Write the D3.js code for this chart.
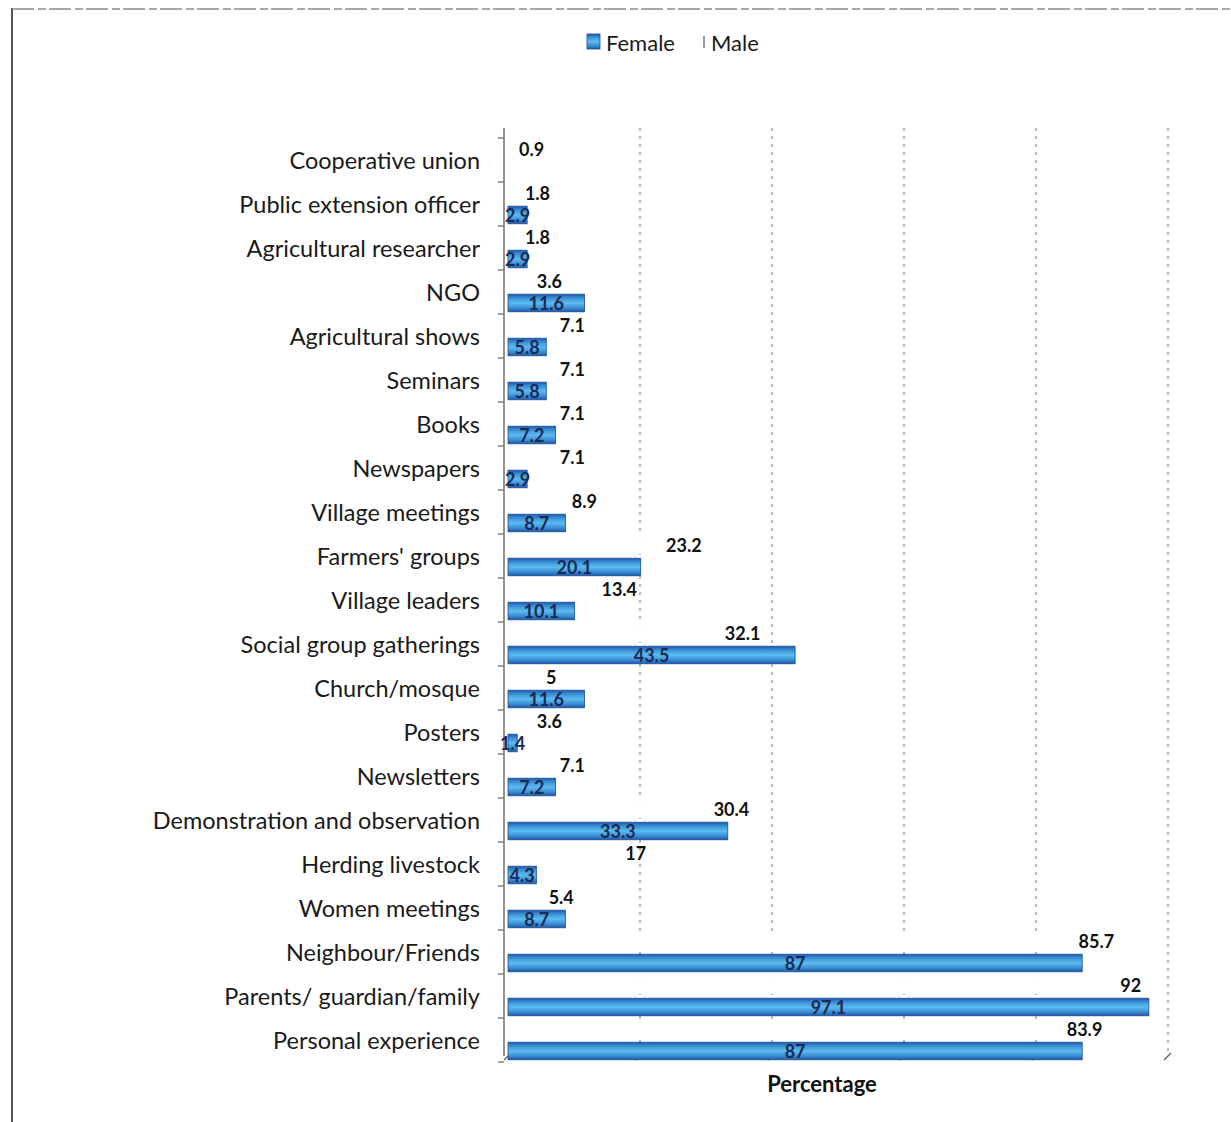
<!DOCTYPE html>
<html>
<head>
<meta charset="utf-8">
<script src="https://cdn.jsdelivr.net/npm/d3@7"></script>
<style>
  html, body { margin: 0; padding: 0; background: #ffffff; }
  svg { display: block; font-family: Lato, "Open Sans", sans-serif; }
</style>
</head>
<body>
<svg id="chart" width="1231" height="1122"></svg>
<script>
// Sources of information by gender (percentage of respondents)
const categories = [
  "Cooperative union", "Public extension officer", "Agricultural researcher", "NGO",
  "Agricultural shows", "Seminars", "Books", "Newspapers", "Village meetings",
  "Farmers' groups", "Village leaders", "Social group gatherings", "Church/mosque",
  "Posters", "Newsletters", "Demonstration and observation", "Herding livestock",
  "Women meetings", "Neighbour/Friends", "Parents/ guardian/family", "Personal experience"
];
const femaleValues = [null, 2.9, 2.9, 11.6, 5.8, 5.8, 7.2, 2.9, 8.7, 20.1, 10.1, 43.5, 11.6,
  1.4, 7.2, 33.3, 4.3, 8.7, 87, 97.1, 87];
const maleValues = [0.9, 1.8, 1.8, 3.6, 7.1, 7.1, 7.1, 7.1, 8.9, 23.2, 13.4, 32.1, 5,
  3.6, 7.1, 30.4, 17, 5.4, 85.7, 92, 83.9];
const seriesNames = ["Female", "Male"];
const xTicks = [0, 20, 40, 60, 80, 100];
const axisTitle = "Percentage";

const rows = categories.map((c, i) => ({ cat: c, female: femaleValues[i], male: maleValues[i] }));

const svg = d3.select("#chart");

// outer frame
svg.append("line").attr("x1", 12).attr("x2", 12).attr("y1", 8).attr("y2", 1122)
  .attr("stroke", "#555").attr("stroke-width", 2);
svg.append("line").attr("x1", 12).attr("x2", 1231).attr("y1", 9).attr("y2", 9)
  .attr("stroke", "#8a8a8a").attr("stroke-width", 1.5).attr("stroke-dasharray", "22,4,8,3");

// bar gradient: dark edges, light centre
const defs = svg.append("defs");
const grad = defs.append("linearGradient").attr("id", "barGrad")
  .attr("x1", 0).attr("x2", 0).attr("y1", 0).attr("y2", 1);
[[0, "#1d5aa8"], [0.22, "#3b8fd6"], [0.5, "#5bbcee"], [0.78, "#3b8fd6"], [1, "#1d56a2"]]
  .forEach(([o, c]) => grad.append("stop").attr("offset", o).attr("stop-color", c));

const x = d3.scaleLinear().domain([0, 100]).range([508, 1168]);
const y = d3.scaleBand().domain(categories).range([138, 1062]);
// two series per category: male band on top, female band below
const sub = d3.scaleBand().domain(["Male", "Female"]).range([0, y.bandwidth()])
  .paddingInner(0.2).paddingOuter(0.1);

const plotTop = 128, plotBottom = 1056;

// vertical dashed gridlines
svg.append("g").selectAll("line").data(xTicks.slice(1)).join("line")
  .attr("x1", d => x(d)).attr("x2", d => x(d))
  .attr("y1", plotTop).attr("y2", plotBottom)
  .attr("stroke", "#8c8c8c").attr("stroke-width", 1.2).attr("stroke-dasharray", "3,5");

// small tick marks under the plot
svg.append("g").selectAll("line").data(xTicks).join("line")
  .attr("x1", d => x(d) - 4).attr("x2", d => x(d) + 3)
  .attr("y1", plotBottom + 4).attr("y2", plotBottom - 3)
  .attr("stroke", "#666").attr("stroke-width", 1.4);

// category axis
svg.append("line").attr("x1", x(0) - 4).attr("x2", x(0) - 4)
  .attr("y1", plotTop).attr("y2", plotBottom)
  .attr("stroke", "#666").attr("stroke-width", 1.4);
svg.append("g").selectAll("line").data(categories.concat([null])).join("line")
  .attr("x1", x(0) - 10).attr("x2", x(0) - 4)
  .attr("y1", (d, i) => y.range()[0] + i * y.step())
  .attr("y2", (d, i) => y.range()[0] + i * y.step())
  .attr("stroke", "#666").attr("stroke-width", 1.2);

svg.append("g").selectAll("text").data(categories).join("text")
  .attr("x", 480).attr("y", d => y(d) + y.bandwidth() / 2)
  .attr("text-anchor", "end").attr("dominant-baseline", "central")
  .attr("font-size", 23.5).attr("fill", "#1a1a1a")
  .text(d => d);

// female bars
const femaleRows = rows.filter(r => r.female != null);
svg.append("g").selectAll("rect").data(femaleRows).join("rect")
  .attr("x", x(0))
  .attr("y", d => y(d.cat) + sub("Female"))
  .attr("width", d => x(d.female) - x(0))
  .attr("height", sub.bandwidth())
  .attr("fill", "url(#barGrad)")
  .attr("stroke", "#1b4f96").attr("stroke-width", 0.8);

// female value labels, centred on each bar
svg.append("g").selectAll("text").data(femaleRows).join("text")
  .attr("x", d => x(d.female / 2))
  .attr("y", d => y(d.cat) + sub("Female") + sub.bandwidth() / 2)
  .attr("text-anchor", "middle").attr("dominant-baseline", "central")
  .attr("font-size", 18).attr("font-weight", 700).attr("fill", "#1c2a55")
  .text(d => d.female);

// male bars (white) and value labels at their ends
svg.append("g").selectAll("rect").data(rows).join("rect")
  .attr("x", x(0))
  .attr("y", d => y(d.cat) + sub("Male"))
  .attr("width", d => x(d.male) - x(0))
  .attr("height", sub.bandwidth())
  .attr("fill", "#ffffff");
svg.append("g").selectAll("text").data(rows).join("text")
  .attr("x", d => x(d.male) + 5)
  .attr("y", d => y(d.cat) + sub("Male") + sub.bandwidth() / 2)
  .attr("text-anchor", "start").attr("dominant-baseline", "central")
  .attr("font-size", 18).attr("font-weight", 700).attr("fill", "#111")
  .text(d => d.male);

// axis title
svg.append("text").attr("x", 822).attr("y", 1083)
  .attr("text-anchor", "middle").attr("dominant-baseline", "central")
  .attr("font-size", 22).attr("font-weight", 700).attr("fill", "#111")
  .text(axisTitle);

// legend
const legend = svg.append("g");
legend.append("rect").attr("x", 587).attr("y", 34).attr("width", 13).attr("height", 15)
  .attr("fill", "url(#barGrad)").attr("stroke", "#1b4f96").attr("stroke-width", 0.8);
legend.append("text").attr("x", 606).attr("y", 42).attr("dominant-baseline", "central")
  .attr("font-size", 22).attr("fill", "#1a1a1a").text(seriesNames[0]);
legend.append("rect").attr("x", 703).attr("y", 36).attr("width", 2).attr("height", 12)
  .attr("fill", "#9a9a9a");
legend.append("text").attr("x", 711).attr("y", 42).attr("dominant-baseline", "central")
  .attr("font-size", 22).attr("fill", "#1a1a1a").text(seriesNames[1]);
</script>
</body>
</html>
